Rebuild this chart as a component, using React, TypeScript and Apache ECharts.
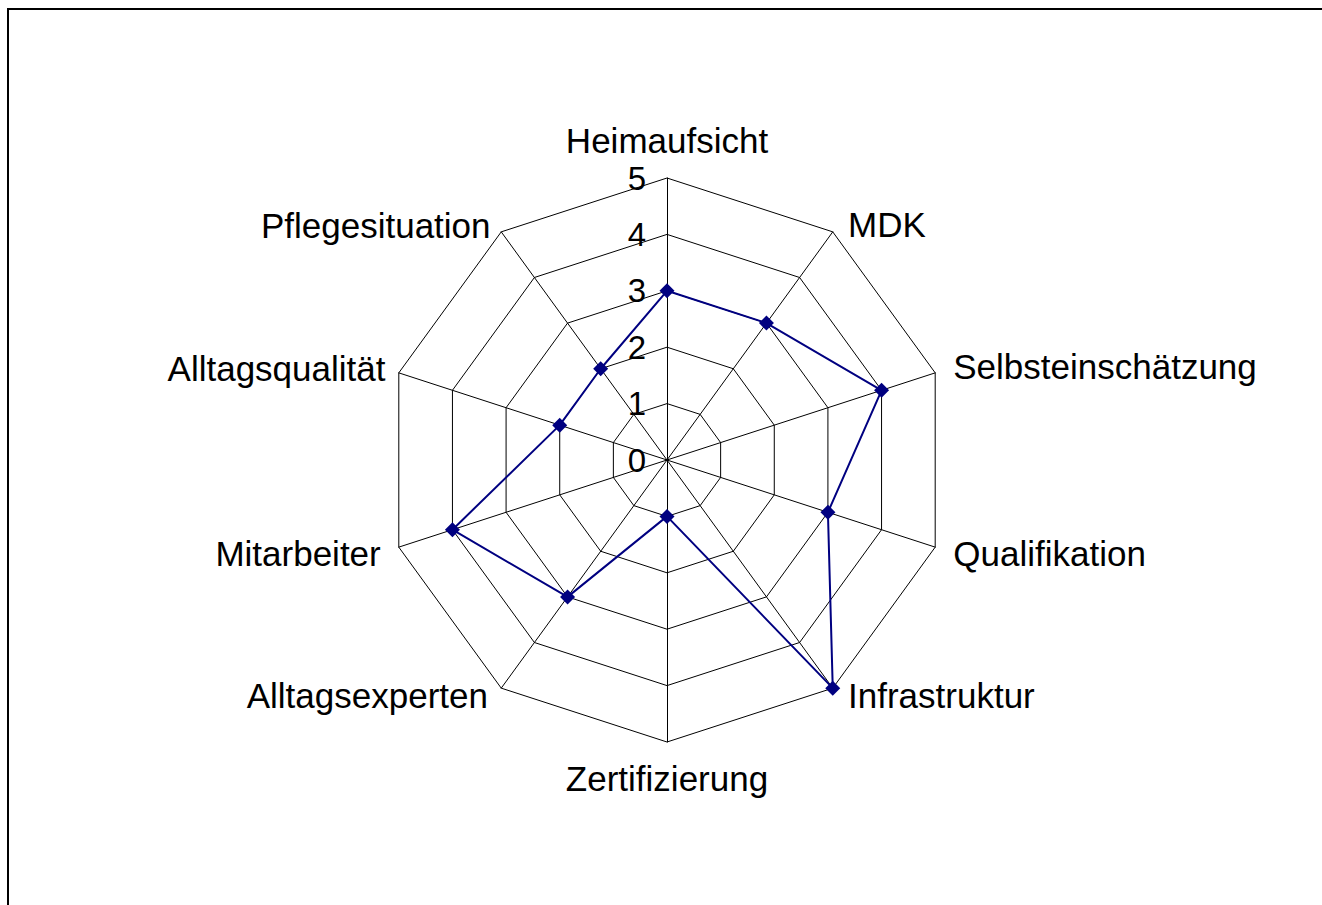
import React, { useEffect, useRef } from "react";
import * as echarts from "echarts";

// Indicator order as listed counter-clockwise from the top (ECharts radar direction)
const categories = [
  "Heimaufsicht",
  "Pflegesituation",
  "Alltagsqualität",
  "Mitarbeiter",
  "Alltagsexperten",
  "Zertifizierung",
  "Infrastruktur",
  "Qualifikation",
  "Selbsteinschätzung",
  "MDK",
];
const values = [3, 2, 2, 4, 3, 1, 5, 3, 4, 3];
const maxValue = 5;
const splitCount = 5;

// Per-indicator label placement tweaks: [nameGap, padding]
const nameLayout: Array<[number, number[]]> = [
  [20, [0, 0, 0, 0]],
  [8, [0, 6, 0, 0]],
  [14, [4, 0, 0, 0]],
  [19, [0, 0, 10, 0]],
  [9, [0, 8, 0, 0]],
  [18.5, [0, 0, 0, 0]],
  [9, [0, 0, 0, 10]],
  [19, [0, 0, 10, 0]],
  [19, [4, 0, 0, 0]],
  [9, [0, 0, 0, 10]],
];

export default function App() {
  const ref = useRef<HTMLDivElement>(null);
  useEffect(() => {
    if (!ref.current) return;
    const chart = echarts.init(ref.current, undefined, { renderer: "svg" });
    const font = "'Liberation Sans', Arial, sans-serif";
    chart.setOption({
      animation: false,
      backgroundColor: "#ffffff",
      graphic: [
        {
          type: "rect",
          shape: { x: 8, y: 9, width: 1400, height: 1000 },
          style: { fill: "none", stroke: "#000000", lineWidth: 2 },
          silent: true,
        },
      ],
      radar: {
        center: [667, 460],
        radius: 282,
        startAngle: 90,
        shape: "polygon",
        splitNumber: splitCount,
        axisNameGap: 20,
        axisName: {
          color: "#000000",
          fontSize: 35,
          fontFamily: font,
        },
        splitArea: { show: false },
        splitLine: { lineStyle: { color: "#000000", width: 1 } },
        axisLine: { lineStyle: { color: "#000000", width: 1 } },
        axisTick: { show: false },
        axisLabel: { show: false },
        indicator: categories.map((name, i) => {
          const [gap, padding] = nameLayout[i];
          const base: any = {
            name,
            min: 0,
            max: maxValue,
            nameGap: gap,
            nameTextStyle: {
              color: "#000000",
              fontSize: 35,
              fontFamily: font,
              padding,
            },
          };
          if (i === 0) {
            base.axisLabel = {
              show: true,
              color: "#000000",
              fontSize: 33,
              fontFamily: font,
              margin: 21,
            };
          }
          return base;
        }),
      },
      series: [
        {
          type: "radar",
          symbol: "diamond",
          symbolSize: 15,
          lineStyle: { color: "#000080", width: 2 },
          itemStyle: { color: "#000080" },
          data: [{ value: values, name: "Werte" }],
        },
      ],
    });
    return () => chart.dispose();
  }, []);
  return (
    <div
      ref={ref}
      style={{ position: "fixed", left: 0, top: 0, width: 1322, height: 905 }}
    />
  );
}
